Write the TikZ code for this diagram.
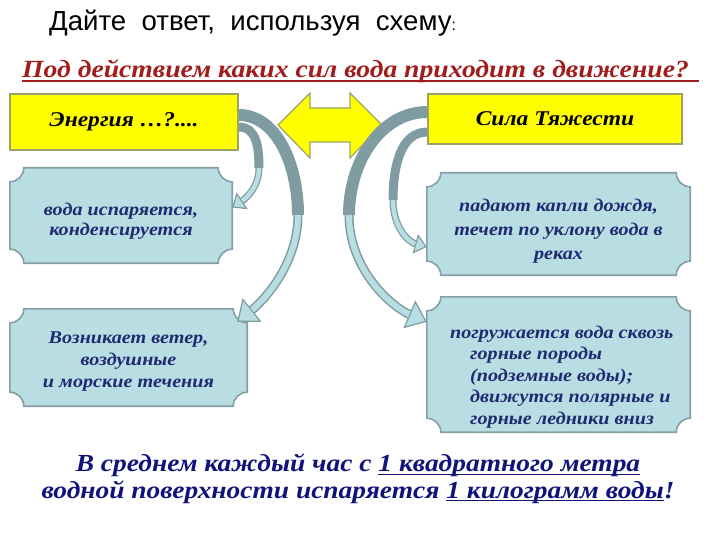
\documentclass[tikz,border=0pt]{standalone}
\usepackage{fontspec}
\setmainfont{Liberation Serif}
\newfontfamily\arialf{Liberation Sans}
\newfontfamily\wides[FakeStretch=1.12]{Liberation Serif}
\usetikzlibrary{arrows.meta}
\definecolor{ylw}{HTML}{FFFF00}
\definecolor{ylwb}{HTML}{9BA466}
\definecolor{plq}{HTML}{B8DDE3}
\definecolor{plqb}{HTML}{859FA5}
\definecolor{agray}{HTML}{7F9CA2}
\definecolor{navy}{HTML}{1F2A70}
\definecolor{deepnavy}{HTML}{10147A}
\definecolor{darkred}{HTML}{A11D1D}
\newcommand\myul[1]{\setbox0\hbox{#1}\rlap{\rule[-3pt]{\wd0}{1.4pt}}\box0}
\newcommand\plaque[1]{\draw[plqstyle] ([xshift=14pt]#1.north west) -- ([xshift=-14pt]#1.north east) arc[start angle=180,end angle=270,radius=14pt] -- ([yshift=14pt]#1.south east) arc[start angle=90,end angle=180,radius=14pt] -- ([xshift=14pt]#1.south west) arc[start angle=0,end angle=90,radius=14pt] -- ([yshift=-14pt]#1.north west) arc[start angle=270,end angle=360,radius=14pt] -- cycle;}
\tikzset{
  ybox/.style={draw=ylwb, line width=1.6, fill=ylw, inner sep=0, font=\wides\bfseries\itshape\fontsize{21}{24}\selectfont},
  plqstyle/.style={draw=plqb, line width=1.6, fill=plq},
  plqtext/.style={inner sep=0, align=center, text=navy},
  tailbig/.style={agray, line width=12},
  tailsmall/.style={agray, line width=9},
  headbig/.style={agray, line width=9, -{Triangle[width=30pt,length=19pt,line width=1.2pt,fill=plq]}},
  headsmall/.style={agray, line width=7, -{Triangle[width=20pt,length=12pt,line width=1.2pt,fill=plq]}},
  bandbig/.style={plq, line width=6, shorten >=19pt},
  bandsmall/.style={plq, line width=4.5, shorten >=12pt},
}
\begin{document}
\begin{tikzpicture}[x=1pt,y=-1pt]
\useasboundingbox[fill=white] (0,0) rectangle (720,540);

% headings
\node[anchor=base west, inner sep=0, font=\arialf\fontsize{27.6}{30}\selectfont] (head) at (49,31)
  {Дайте\ \ ответ,\ \ используя\ \ схему{\fontsize{16}{16}\selectfont:}};
\node[anchor=base west, inner sep=0, text=darkred, font=\wides\bfseries\itshape\fontsize{24.7}{30}\selectfont] (q) at (22,78)
  {Под действием каких сил вода приходит в движение?};
\draw[darkred, line width=1.6] ([yshift=-3pt]q.base west) -- ([xshift=10pt,yshift=-3pt]q.base east);

% yellow boxes
\node[ybox, minimum width=228, minimum height=56] (E) at (124,122) {Энергия …?....};
\node[ybox, minimum width=254, minimum height=50] (G) at (555,119) {Сила Тяжести};

% double arrow
\draw[fill=ylw, draw=ylwb, line width=1.2] (278,125) -- (310,93) -- (310,108) -- (350,108) -- (350,93)
  -- (382,125) -- (350,158) -- (350,142) -- (310,142) -- (310,158) -- cycle;

% plaques
\node[minimum width=222, minimum height=95] (L1) at (121,215.5) {};
\node[minimum width=237, minimum height=97] (L2) at (128.5,357.5) {};
\node[minimum width=263, minimum height=102] (R1) at (558.5,224) {};
\node[minimum width=263, minimum height=135] (R2) at (558.5,364.5) {};
\plaque{L1}\plaque{L2}\plaque{R1}\plaque{R2}
\node[plqtext, font=\wides\bfseries\itshape\fontsize{18}{20}\selectfont] (L1t) at (121,221) {вода испаряется,\\конденсируется};
\node[plqtext, font=\wides\bfseries\itshape\fontsize{18}{22}\selectfont] (L2t) at (128.5,362) {Возникает ветер,\\воздушные\\и морские течения};
\node[plqtext, font=\wides\bfseries\itshape\fontsize{18}{24}\selectfont] (R1t) at (558.5,231) {падают капли дождя,\\течет по уклону вода в\\реках};
\node[plqtext, align=left, anchor=west, font=\wides\bfseries\itshape\fontsize{18}{21.5}\selectfont] (R2t) at (450,377)
  {погружается вода сквозь\\\hspace*{20pt}горные породы\\\hspace*{20pt}(подземные воды);\\\hspace*{20pt}движутся полярные и\\\hspace*{20pt}горные ледники вниз};

% curved arrows
\coordinate (m1) at (259,168);
\coordinate (m2) at (298,215);
\coordinate (m3) at (349,215);
\coordinate (m4) at (393,200);
% arrow 2: E -> L2
\draw[tailbig] ([yshift=7pt]E.east) .. controls +(38,0) and +(0,-50) .. (m2);
\draw[headbig] (m2) .. controls +(0,50) and +(25,-20) .. ([xshift=-10pt,yshift=-13pt]L2.north east);
\draw[bandbig] (m2) .. controls +(0,50) and +(25,-20) .. ([xshift=-10pt,yshift=-13pt]L2.north east);
% arrow 1: E -> L1
\draw[tailsmall] ([yshift=-5pt]E.east) .. controls +(18,0) and +(0,-20) .. (m1);
\draw[headsmall] (m1) .. controls +(0,18) and +(15,-10) .. ([yshift=8pt]L1.east);
\draw[bandsmall] (m1) .. controls +(0,18) and +(15,-10) .. ([yshift=8pt]L1.east);
% arrow 3: G -> R2
\draw[tailbig] ([yshift=7pt]G.west) .. controls +(-45,0) and +(0,-55) .. (m3);
\draw[headbig] (m3) .. controls +(0,55) and +(-35,-15) .. ([yshift=-25pt]R2.north west);
\draw[bandbig] (m3) .. controls +(0,55) and +(-35,-15) .. ([yshift=-25pt]R2.north west);
% arrow 4: G -> R1
\draw[tailsmall] ([yshift=-13pt]G.west) .. controls +(-28,0) and +(0,-30) .. (m4);
\draw[headsmall] (m4) .. controls +(0,28) and +(-18,-5) .. ([yshift=-23pt]R1.west);
\draw[bandsmall] (m4) .. controls +(0,28) and +(-18,-5) .. ([yshift=-23pt]R1.west);

% bottom text
\node[inner sep=0, align=center, text=deepnavy, font=\wides\bfseries\itshape\fontsize{24.5}{26.5}\selectfont] (foot) at (358,479)
  {В среднем каждый час с \myul{1 квадратного метра}\\водной поверхности испаряется \myul{1 килограмм воды}!};
\end{tikzpicture}
\end{document}
